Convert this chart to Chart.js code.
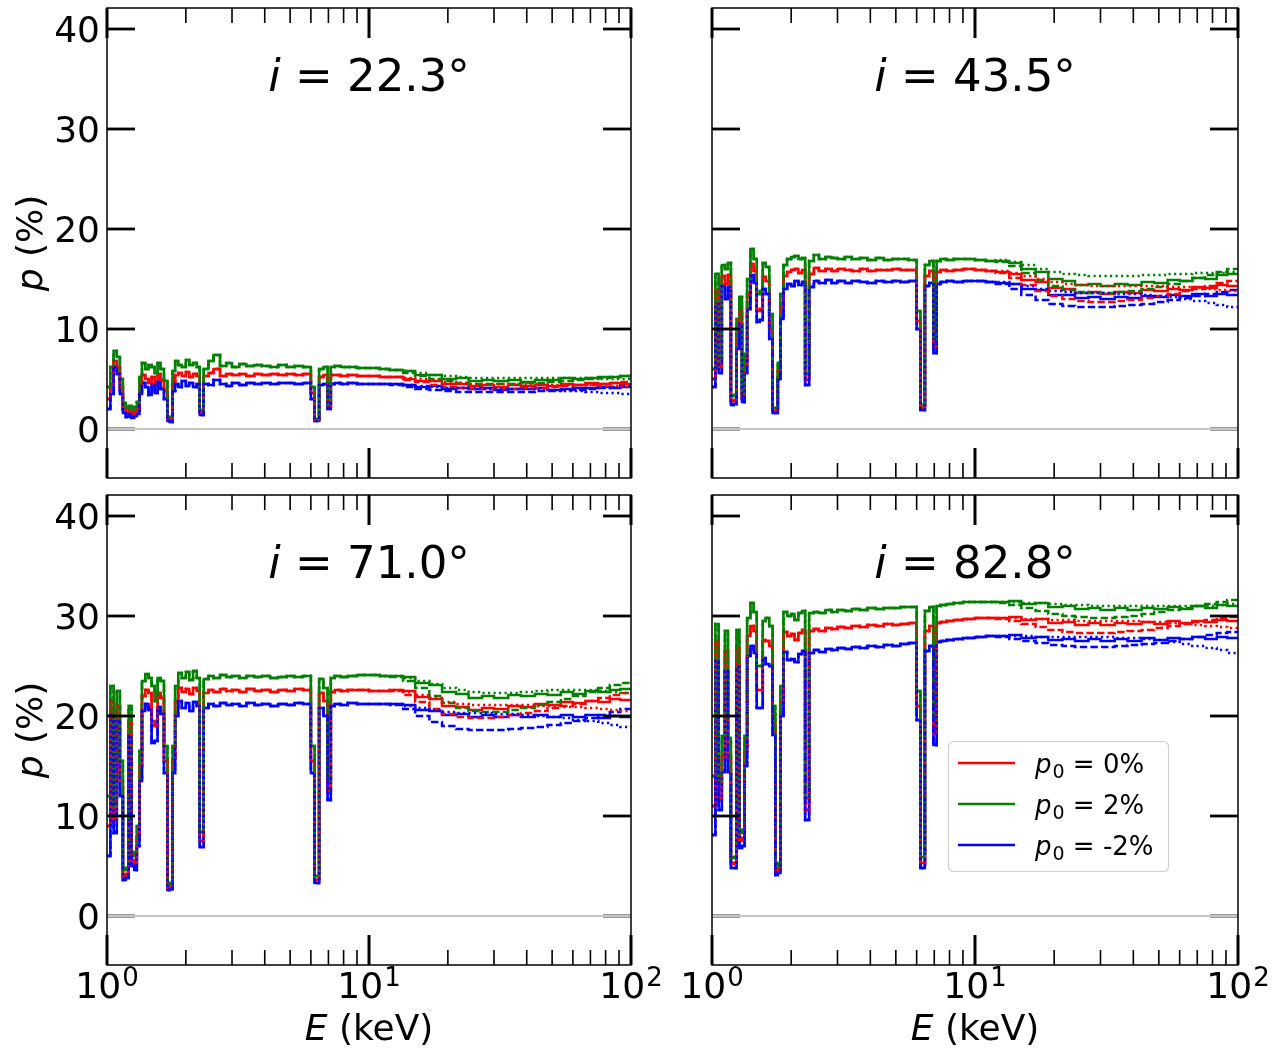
<!DOCTYPE html>
<html>
<head>
<meta charset="utf-8">
<script src="https://cdn.jsdelivr.net/npm/chart.js@4.4.1/dist/chart.umd.min.js"></script>
<style>
  html, body { margin: 0; padding: 0; background: #ffffff; }
  #figure { position: relative; width: 1285px; height: 1049px; }
  #figure canvas { position: absolute; left: 0; top: 0; }
</style>
</head>
<body>
<div id="figure">
  <canvas id="panel0" width="1285" height="1049"></canvas>
  <canvas id="panel1" width="1285" height="1049"></canvas>
  <canvas id="panel2" width="1285" height="1049"></canvas>
  <canvas id="panel3" width="1285" height="1049"></canvas>
</div>
<script>
// Energy grid (keV): left edge of each spectral bin, last entry closes the range.
const energyKeV = [1.00,1.03,1.06,1.09,1.12,1.15,1.18,1.21,1.24,1.27,
  1.30,1.33,1.36,1.40,1.44,1.48,1.52,1.56,1.60,1.65,
  1.70,1.74,1.78,1.82,1.87,1.93,2.00,2.06,2.13,2.20,
  2.26,2.34,2.44,2.55,2.70,2.85,3.00,3.20,3.40,3.65,
  3.90,4.20,4.50,4.85,5.20,5.60,6.00,6.20,6.45,6.70,
  6.95,7.15,7.40,7.80,8.30,9.00,10,11,12,13.5,
  15,17,19,21.5,24,27,30,34,38,43,
  48,54,60,67,75,83,91,100];

// Axis ticks
const xMajorTicks = [1, 10, 100];
const xMinorTicks = [2,3,4,5,6,7,8,9,20,30,40,50,60,70,80,90];
const yTicks = [0, 10, 20, 30, 40];

// Inclination angles of the four panels (degrees)
const inclinations = ['22.3', '43.5', '71.0', '82.8'];
// Legend entries, one per p0 value
const p0Labels = ['0%', '2%', '-2%'];

// ---- i = 22.3 deg : polarisation degree (%) below 12 keV, shared by all three model variants
const red22Low = [3.0,4.5,6.8,6.2,4.2,2.0,1.6,1.8,1.4,1.7,
  2.0,4.2,5.4,5.0,4.6,5.2,4.5,5.5,4.9,3.8,
  1.0,0.9,4.7,5.4,5.6,5.3,5.7,5.2,5.5,5.3,
  1.6,5.3,5.6,6.0,5.3,5.5,5.4,5.5,5.3,5.5,
  5.4,5.5,5.4,5.5,5.4,5.5,3.6,0.9,5.2,5.4,
  2.2,5.4,5.4,5.3,5.4,5.3,5.3,5.2];
const green22Low = [4.2,6.2,7.8,7.2,5.0,2.6,2.0,2.3,1.9,2.2,
  2.7,5.2,6.6,6.0,6.4,6.2,5.6,6.6,6.0,4.8,
  1.2,1.1,5.8,6.8,6.4,6.2,6.9,6.4,6.6,6.2,
  1.9,6.0,6.8,7.4,6.3,6.6,6.2,6.5,6.3,6.4,
  6.3,6.2,6.4,6.2,6.3,6.2,4.2,1.0,6.0,6.2,
  2.5,6.2,6.3,6.2,6.2,6.1,6.1,6.0];
const blue22Low = [2.0,3.5,6.2,5.5,3.5,1.6,1.2,1.5,1.1,1.3,
  1.5,3.5,4.6,4.2,3.4,4.4,3.6,4.7,4.0,3.0,
  0.8,0.7,3.8,4.5,4.2,4.8,4.3,4.6,4.2,4.5,
  1.4,4.5,4.4,4.9,4.5,4.3,4.6,4.4,4.6,4.5,
  4.6,4.5,4.6,4.6,4.5,4.6,3.0,0.8,4.4,4.5,
  2.0,4.5,4.6,4.5,4.6,4.5,4.5,4.5];
// 12-100 keV, per variant (solid / dashed / dotted)
const red22Solid = [5.2,5.0,4.8,4.8,4.5,4.5,4.3,4.4,4.2,4.4,4.3,4.4,4.3,4.5,4.4,4.6,4.5,4.6,4.5,4.6];
const red22Dash  = [5.2,4.9,4.7,4.4,4.2,4.1,4.0,4.0,4.0,4.0,4.1,4.1,4.2,4.3,4.4,4.4,4.5,4.6,4.7,4.7];
const red22Dot   = [5.2,5.1,5.0,4.8,4.7,4.6,4.5,4.5,4.5,4.5,4.5,4.5,4.4,4.4,4.4,4.4,4.3,4.3,4.2,4.2];
const green22Solid = [5.9,5.8,5.4,5.4,5.0,5.1,4.8,4.9,4.8,4.9,4.7,4.9,4.9,5.1,5.0,5.1,5.2,5.2,5.3,5.2];
const green22Dash  = [5.9,5.6,5.3,5.0,4.8,4.6,4.5,4.5,4.5,4.5,4.6,4.6,4.7,4.8,4.9,5.0,5.1,5.2,5.3,5.3];
const green22Dot   = [5.9,5.8,5.6,5.4,5.3,5.2,5.1,5.1,5.1,5.1,5.1,5.1,5.1,5.1,5.1,5.1,5.0,5.0,5.0,5.0];
const blue22Solid = [4.5,4.4,4.2,4.3,4.0,4.1,4.0,4.1,3.9,4.0,4.0,4.1,3.9,4.0,4.1,4.1,4.2,4.1,4.2,4.2];
const blue22Dash  = [4.4,4.2,4.0,3.9,3.8,3.7,3.7,3.7,3.7,3.7,3.7,3.8,3.8,3.9,3.9,4.0,4.1,4.2,4.3,4.3];
const blue22Dot   = [4.5,4.4,4.3,4.2,4.1,4.1,4.1,4.0,4.0,4.0,4.0,3.9,3.9,3.8,3.8,3.7,3.6,3.6,3.5,3.5];

// ---- i = 43.5 deg
const red43Low = [5.0,13.8,6.2,15.3,14.5,15.4,2.8,2.9,9.5,11.8,
  3.1,6.4,13.5,16.5,15.8,11.8,12.0,15.2,14.8,10.0,
  1.8,1.8,5.8,12.2,15.3,15.7,15.9,16.0,15.6,15.9,
  4.9,15.5,16.1,15.8,16.0,15.8,16.0,15.9,15.8,16.0,
  15.8,15.9,15.9,16.0,15.9,15.9,10.8,2.1,15.3,15.8,
  8.2,15.7,15.9,15.8,15.9,16.0,15.9,15.8];
const green43Low = [6.0,15.5,7.0,16.4,16.0,16.6,3.3,3.4,11.0,13.2,
  3.6,7.5,15.0,18.0,17.0,13.5,13.8,16.6,16.2,11.5,
  2.1,2.1,6.6,13.5,16.4,17.0,17.2,17.3,17.0,17.1,
  5.5,16.8,17.4,17.0,17.2,17.1,17.0,17.2,17.0,17.1,
  16.9,17.1,16.9,17.0,17.0,16.9,11.8,2.4,16.4,16.8,
  9.0,16.8,17.0,16.9,17.0,17.0,16.9,16.8];
const blue43Low = [4.2,12.5,5.6,14.3,13.0,14.2,2.4,2.5,8.0,10.5,
  2.7,5.6,12.0,15.4,14.6,10.7,10.9,14.0,13.5,9.0,
  1.6,1.6,5.0,11.0,14.0,14.5,14.3,14.8,14.4,14.7,
  4.4,14.2,14.8,14.6,14.9,14.6,14.8,14.6,14.8,14.7,
  14.6,14.8,14.7,14.8,14.7,14.8,10.0,1.9,14.3,14.6,
  7.6,14.5,14.7,14.8,14.7,14.8,14.8,14.7];
const red43Solid = [15.7,15.5,14.9,14.7,14.1,14.0,13.6,13.7,13.5,13.7,13.6,13.9,13.8,14.0,13.9,14.2,14.1,14.4,14.3,14.4];
const red43Dash  = [15.6,15.1,14.4,13.8,13.3,13.0,12.8,12.7,12.7,12.8,12.9,13.1,13.3,13.5,13.8,14.0,14.3,14.6,14.8,14.8];
const red43Dot   = [15.8,15.6,15.3,15.0,14.7,14.5,14.4,14.3,14.3,14.3,14.3,14.3,14.3,14.2,14.2,14.1,14.0,13.9,13.8,13.8];
const green43Solid = [16.8,16.6,16.0,15.7,15.0,14.8,14.4,14.5,14.3,14.5,14.4,14.7,14.6,14.9,14.8,15.1,15.0,15.4,15.5,15.6];
const green43Dash  = [16.7,16.3,15.6,14.9,14.3,13.9,13.7,13.6,13.6,13.7,13.8,14.0,14.2,14.5,14.8,15.1,15.4,15.7,16.0,16.0];
const green43Dot   = [16.9,16.7,16.4,16.0,15.7,15.5,15.4,15.3,15.3,15.3,15.3,15.4,15.4,15.5,15.5,15.6,15.6,15.6,15.7,15.7];
const blue43Solid = [14.6,14.5,14.0,13.9,13.4,13.4,13.1,13.2,13.0,13.2,13.1,13.3,13.2,13.4,13.3,13.5,13.3,13.5,13.4,13.4];
const blue43Dash  = [14.5,14.0,13.4,12.9,12.5,12.3,12.2,12.2,12.2,12.3,12.4,12.5,12.7,12.9,13.1,13.3,13.5,13.7,13.9,13.9];
const blue43Dot   = [14.7,14.5,14.3,14.0,13.8,13.7,13.6,13.6,13.6,13.5,13.5,13.4,13.3,13.2,13.0,12.8,12.6,12.4,12.2,12.2];

// ---- i = 71.0 deg
const red71Low = [9.0,21.5,9.5,21.0,13.5,4.0,4.2,19.5,5.6,5.2,
  8.0,15.0,22.0,22.6,22.3,19.5,19.0,22.3,21.8,15.5,
  2.8,3.0,15.6,21.5,22.8,22.4,22.7,22.2,22.8,22.5,
  7.5,22.3,22.6,22.4,22.7,22.5,22.6,22.4,22.7,22.5,
  22.6,22.4,22.6,22.5,22.7,22.6,15.5,3.6,22.3,21.5,
  12.5,22.4,22.6,22.5,22.6,22.6,22.5,22.5];
const green71Low = [12.0,23.0,11.0,22.5,15.5,4.6,4.8,21.0,6.4,6.0,
  9.0,16.5,23.5,24.2,23.8,23.0,21.5,23.8,23.5,17.0,
  3.1,3.3,17.0,23.0,24.3,23.8,24.4,23.6,24.5,23.8,
  8.4,23.7,24.0,23.8,24.1,23.9,24.0,23.8,24.0,23.9,
  24.0,23.8,23.9,24.0,23.9,24.0,17.0,4.0,23.7,22.8,
  13.5,23.8,24.0,23.9,24.0,24.1,24.1,24.0];
const blue71Low = [6.0,20.1,8.3,19.5,12.0,3.6,3.8,18.0,5.0,4.6,
  7.0,13.5,20.5,21.2,20.6,17.3,17.5,20.9,20.2,14.3,
  2.6,2.7,14.3,20.0,21.5,20.8,21.3,20.5,21.4,21.0,
  6.9,20.8,21.2,21.0,21.3,21.1,21.2,21.0,21.3,21.1,
  21.2,21.0,21.2,21.1,21.3,21.2,14.3,3.3,20.8,20.0,
  11.6,21.0,21.2,21.1,21.3,21.2,21.2,21.2];
const red71Solid = [22.6,22.5,21.9,21.7,21.0,20.9,20.6,20.8,20.7,21.0,20.9,21.2,21.1,21.4,21.3,21.5,21.4,21.7,21.6,21.6];
const red71Dash  = [22.5,22.1,21.4,20.7,20.2,19.9,19.8,19.8,19.9,20.1,20.3,20.5,20.8,21.0,21.2,21.5,21.8,22.1,22.3,22.3];
const red71Dot   = [22.6,22.4,22.1,21.8,21.4,21.2,21.1,21.1,21.1,21.1,21.1,21.0,21.0,20.9,20.9,20.8,20.7,20.6,20.5,20.5];
const green71Solid = [24.0,23.9,23.3,23.1,22.4,22.2,21.8,22.0,21.8,22.1,22.0,22.2,22.1,22.4,22.2,22.5,22.4,22.6,22.7,22.7];
const green71Dash  = [23.9,23.5,22.8,22.0,21.3,20.8,20.5,20.4,20.4,20.6,20.8,21.1,21.4,21.7,22.0,22.4,22.8,23.1,23.3,23.3];
const green71Dot   = [24.0,23.8,23.5,23.2,22.8,22.6,22.4,22.3,22.3,22.3,22.4,22.5,22.6,22.6,22.6,22.6,22.5,22.4,22.3,22.3];
const blue71Solid = [21.2,21.1,20.6,20.5,20.1,20.2,19.9,20.1,19.9,20.1,19.9,20.1,19.9,20.1,19.9,20.1,19.8,20.0,19.9,19.9];
const blue71Dash  = [21.1,20.7,20.0,19.4,19.0,18.7,18.6,18.6,18.6,18.7,18.8,18.9,19.1,19.3,19.5,19.8,20.1,20.4,20.7,20.7];
const blue71Dot   = [21.2,21.0,20.8,20.6,20.4,20.3,20.3,20.3,20.2,20.2,20.1,20.0,19.9,19.8,19.6,19.5,19.3,19.1,18.9,18.9];

// ---- i = 82.8 deg
const red83Low = [11.0,27.5,11.8,16.0,26.5,16.0,5.2,5.3,26.8,7.5,
  7.8,16.5,28.0,29.0,28.5,22.6,22.6,27.6,27.5,27.0,
  19.5,4.5,4.8,21.5,28.4,28.0,28.2,27.6,28.3,28.6,
  10.6,28.5,28.7,28.5,28.8,28.7,28.9,28.8,29.0,28.9,
  29.1,29.0,29.2,29.1,29.2,29.3,21.0,5.3,28.5,29.0,
  18.3,29.3,29.4,29.5,29.6,29.7,29.8,29.8];
const green83Low = [14.0,29.2,13.2,18.0,28.5,17.8,5.8,5.9,28.6,8.3,
  8.6,18.0,29.8,31.3,30.4,25.0,25.0,29.5,29.8,29.0,
  21.0,5.0,5.3,23.0,30.4,30.0,30.2,29.6,30.3,30.5,
  11.8,30.3,30.4,30.3,30.6,30.4,30.6,30.5,30.7,30.6,
  30.8,30.7,30.8,30.8,30.9,30.9,22.5,5.9,30.5,30.9,
  19.8,31.0,31.1,31.2,31.3,31.4,31.4,31.4];
const blue83Low = [8.1,25.5,10.6,14.4,24.5,14.4,4.8,4.8,24.9,6.8,
  7.0,15.0,26.0,27.0,26.3,20.8,20.8,25.8,25.2,25.0,
  18.1,4.1,4.3,20.0,26.4,25.6,25.7,25.4,26.2,26.5,
  9.6,26.3,26.6,26.4,26.7,26.6,26.8,26.7,26.9,26.8,
  27.0,26.9,27.1,27.0,27.2,27.3,19.6,4.8,26.5,27.0,
  17.1,27.4,27.5,27.6,27.7,27.8,27.9,28.0];
const red83Solid = [29.8,29.9,29.6,29.7,29.3,29.4,29.1,29.3,29.1,29.3,29.2,29.4,29.2,29.5,29.3,29.5,29.4,29.6,29.5,29.5];
const red83Dash  = [29.7,29.5,29.2,28.9,28.6,28.4,28.3,28.3,28.3,28.4,28.5,28.6,28.8,29.0,29.2,29.4,29.6,29.8,29.9,29.9];
const red83Dot   = [29.8,29.8,29.7,29.7,29.6,29.6,29.5,29.5,29.5,29.5,29.5,29.4,29.4,29.3,29.2,29.1,29.0,28.9,28.8,28.8];
const green83Solid = [31.4,31.5,31.2,31.3,30.9,31.0,30.7,30.8,30.6,30.8,30.6,30.8,30.7,30.9,30.7,31.0,30.8,31.1,31.0,31.1];
const green83Dash  = [31.3,31.1,30.8,30.5,30.2,30.0,29.9,29.8,29.8,29.9,30.0,30.2,30.4,30.6,30.8,31.0,31.2,31.4,31.6,31.6];
const green83Dot   = [31.4,31.4,31.3,31.3,31.2,31.1,31.1,31.0,31.0,31.0,31.0,31.0,31.0,31.0,31.0,31.0,31.0,31.1,31.2,31.2];
const blue83Solid = [28.0,28.1,27.8,27.9,27.6,27.7,27.5,27.7,27.5,27.7,27.5,27.8,27.6,27.8,27.7,27.9,27.7,27.9,27.8,27.8];
const blue83Dash  = [27.9,27.7,27.5,27.3,27.1,27.0,26.9,26.9,26.9,27.0,27.1,27.2,27.3,27.5,27.7,27.9,28.1,28.3,28.4,28.4];
const blue83Dot   = [28.0,28.0,28.0,27.9,27.9,27.9,27.9,27.9,27.9,27.8,27.8,27.7,27.6,27.4,27.2,27.0,26.8,26.6,26.3,26.3];

// ---------------------------------------------------------------------------
const W = 1285, H = 1049;
const FAMILY = '"DejaVu Sans", "Liberation Sans", sans-serif';
const fontN = s => `${s}px ${FAMILY}`;
const fontI = s => `oblique ${s}px ${FAMILY}`;

const COLORS = { red: '#ff0000', green: '#008000', blue: '#0000ff' };
const COLOR_ORDER = ['red', 'green', 'blue'];
const LINE_STYLES = [
  { key: 'solid', dash: [] },
  { key: 'dash',  dash: [7.4, 3.2] },
  { key: 'dot',   dash: [2.2, 3.3] },
];

const panels = [
  { canvas: 'panel0', angle: inclinations[0], box: { l: 107, r: 631, t: 8, b: 478 },
    xLabels: false, yLabels: true, legend: false,
    series: {
      red:   { low: red22Low,   solid: red22Solid,   dash: red22Dash,   dot: red22Dot },
      green: { low: green22Low, solid: green22Solid, dash: green22Dash, dot: green22Dot },
      blue:  { low: blue22Low,  solid: blue22Solid,  dash: blue22Dash,  dot: blue22Dot } } },
  { canvas: 'panel1', angle: inclinations[1], box: { l: 712, r: 1238, t: 8, b: 478 },
    xLabels: false, yLabels: false, legend: false,
    series: {
      red:   { low: red43Low,   solid: red43Solid,   dash: red43Dash,   dot: red43Dot },
      green: { low: green43Low, solid: green43Solid, dash: green43Dash, dot: green43Dot },
      blue:  { low: blue43Low,  solid: blue43Solid,  dash: blue43Dash,  dot: blue43Dot } } },
  { canvas: 'panel2', angle: inclinations[2], box: { l: 107, r: 631, t: 495, b: 965 },
    xLabels: true, yLabels: true, legend: false,
    series: {
      red:   { low: red71Low,   solid: red71Solid,   dash: red71Dash,   dot: red71Dot },
      green: { low: green71Low, solid: green71Solid, dash: green71Dash, dot: green71Dot },
      blue:  { low: blue71Low,  solid: blue71Solid,  dash: blue71Dash,  dot: blue71Dot } } },
  { canvas: 'panel3', angle: inclinations[3], box: { l: 712, r: 1238, t: 495, b: 965 },
    xLabels: true, yLabels: false, legend: true,
    series: {
      red:   { low: red83Low,   solid: red83Solid,   dash: red83Dash,   dot: red83Dot },
      green: { low: green83Low, solid: green83Solid, dash: green83Dash, dot: green83Dot },
      blue:  { low: blue83Low,  solid: blue83Solid,  dash: blue83Dash,  dot: blue83Dot } } },
];

function buildDatasets(series) {
  const list = [];
  for (const st of LINE_STYLES) {
    for (const ck of COLOR_ORDER) {
      const vals = series[ck].low.concat(series[ck][st.key]);
      list.push({
        data: energyKeV.map((e, i) => ({ x: e, y: vals[i] })),
        borderColor: COLORS[ck],
        borderWidth: 2.5,
        borderDash: st.dash,
        borderCapStyle: 'butt',
        // each value holds from its own energy up to the next one
        stepped: 'before',
        pointRadius: 0,
        fill: false,
      });
    }
  }
  // Chart.js paints the first dataset last, so reverse to keep solid at the bottom
  return list.reverse();
}

// Draw a sequence of text runs (mixed fonts / raised or lowered pieces)
function drawRuns(ctx, runs, x, baseline, align) {
  let total = 0;
  for (const r of runs) { ctx.font = r.font; r.w = ctx.measureText(r.text).width; total += r.w + (r.gap || 0); }
  let cx = align === 'center' ? x - total / 2 : x;
  ctx.textAlign = 'left';
  ctx.textBaseline = 'alphabetic';
  for (const r of runs) {
    ctx.font = r.font;
    ctx.fillText(r.text, cx, baseline + (r.dy || 0));
    cx += r.w + (r.gap || 0);
  }
}

const decorations = {
  id: 'decorations',
  afterDatasetsDraw(chart, args, opts) {
    const { ctx, chartArea: a, scales: { x, y } } = chart;
    const p = opts.panel;
    ctx.save();
    ctx.lineCap = 'butt';
    const seg = (x1, y1, x2, y2, w, c) => {
      ctx.strokeStyle = c || '#000';
      ctx.lineWidth = w;
      ctx.beginPath(); ctx.moveTo(x1, y1); ctx.lineTo(x2, y2); ctx.stroke();
    };
    // inward ticks on all four sides
    for (const v of yTicks) {
      const py = y.getPixelForValue(v);
      seg(a.left, py, a.left + 28, py, 2.8);
      seg(a.right - 28, py, a.right, py, 2.8);
    }
    for (const v of xMajorTicks) {
      const px = x.getPixelForValue(v);
      seg(px, a.bottom, px, a.bottom - 30, 3);
      seg(px, a.top, px, a.top + 30, 3);
    }
    for (const v of xMinorTicks) {
      const px = x.getPixelForValue(v);
      seg(px, a.bottom, px, a.bottom - 15, 1.6);
      seg(px, a.top, px, a.top + 15, 1.6);
    }
    // zero reference line
    const y0 = y.getPixelForValue(0);
    seg(a.left, y0, a.right, y0, 2, '#c6c6c6');
    // frame
    ctx.strokeStyle = '#000';
    ctx.lineWidth = 1.5;
    ctx.strokeRect(a.left, a.top, a.right - a.left, a.bottom - a.top);

    ctx.fillStyle = '#000';
    // panel title
    drawRuns(ctx, [
      { text: 'i', font: fontI(45) },
      { text: ' = ' + p.angle + '°', font: fontN(45) },
    ], (a.left + a.right) / 2, a.top + 83, 'center');

    // y tick labels and axis title
    if (p.yLabels) {
      ctx.font = fontN(36);
      ctx.textAlign = 'right';
      ctx.textBaseline = 'alphabetic';
      for (const v of yTicks) {
        ctx.fillText(String(v), a.left - 7, y.getPixelForValue(v) + 13);
      }
      ctx.save();
      ctx.translate(42, (a.top + a.bottom) / 2);
      ctx.rotate(-Math.PI / 2);
      drawRuns(ctx, [
        { text: 'p', font: fontI(36) },
        { text: ' (%)', font: fontN(36) },
      ], 0, 0, 'center');
      ctx.restore();
    }

    // x tick labels and axis title
    if (p.xLabels) {
      for (const v of xMajorTicks) {
        const px = x.getPixelForValue(v);
        drawRuns(ctx, [
          { text: '10', font: fontN(36), gap: 1 },
          { text: String(Math.round(Math.log10(v))), font: fontN(26), dy: -12 },
        ], px, a.bottom + 33, 'center');
      }
      drawRuns(ctx, [
        { text: 'E', font: fontI(36) },
        { text: ' (keV)', font: fontN(36) },
      ], (a.left + a.right) / 2, 1040, 'center');
    }

    // legend
    if (p.legend) {
      const bx = 948.5, by = 741.5, bw = 220, bh = 130;
      ctx.beginPath();
      ctx.roundRect(bx, by, bw, bh, 5);
      ctx.fillStyle = 'rgba(255,255,255,0.85)';
      ctx.fill();
      ctx.strokeStyle = '#d0d0d0';
      ctx.lineWidth = 1.2;
      ctx.stroke();
      COLOR_ORDER.forEach((ck, i) => {
        const ly = 763 + i * 41;
        seg(958, ly, 1015, ly, 2.3, COLORS[ck]);
        ctx.fillStyle = '#000';
        drawRuns(ctx, [
          { text: 'p', font: fontI(26), gap: 1 },
          { text: '0', font: fontN(19), dy: 5 },
          { text: ' = ' + p0Labels[i], font: fontN(26) },
        ], 1035, ly + 10, 'left');
      });
    }
    ctx.restore();
  }
};

for (const p of panels) {
  new Chart(document.getElementById(p.canvas), {
    type: 'line',
    data: { datasets: buildDatasets(p.series) },
    options: {
      responsive: false,
      animation: false,
      events: [],
      layout: { padding: { left: p.box.l, right: W - p.box.r, top: p.box.t, bottom: H - p.box.b } },
      scales: {
        x: { type: 'logarithmic', min: 1, max: 100, display: false },
        y: { type: 'linear', min: -4.9, max: 42.1, display: false },
      },
      plugins: {
        legend: { display: false },
        tooltip: { enabled: false },
        decorations: { panel: p },
      },
    },
    plugins: [decorations],
  });
}
</script>
</body>
</html>
